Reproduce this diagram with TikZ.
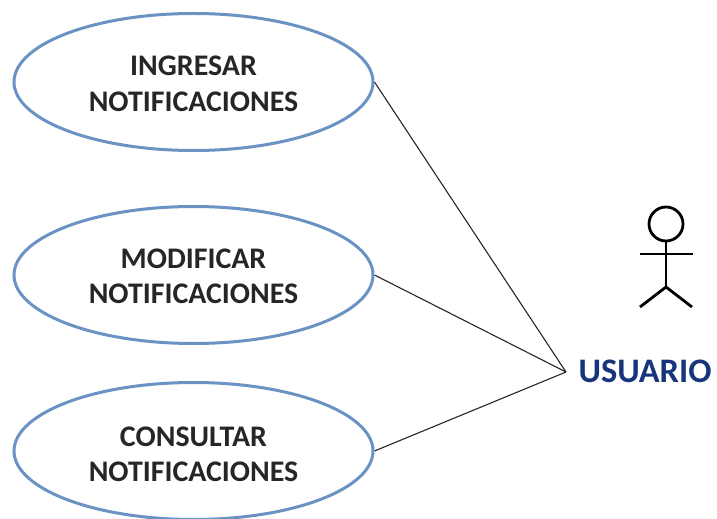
\documentclass[tikz,border=0pt]{standalone}
\usepackage{fontspec}
\setmainfont{Carlito}
\definecolor{ell}{HTML}{6A93C4}
\definecolor{navy}{HTML}{17357A}
\usetikzlibrary{shapes.geometric}
\tikzset{usecase/.style={draw=ell,line width=3bp,ellipse,minimum width=359bp,minimum height=137bp,inner sep=0pt},
casetext/.style={align=center,font=\bfseries\fontsize{29.9bp}{35.5bp}\selectfont,text=black!85,inner sep=0pt},
link/.style={draw=black!85,line width=1.1bp},
stick/.style={draw=black,line width=2.8bp}}
\begin{document}
\begin{tikzpicture}[x=1bp,y=-1bp]
\useasboundingbox (0,0) rectangle (717,519);
\node[usecase,label={[casetext,yshift=-1.8bp]center:{INGRESAR\\NOTIFICACIONES}}] (a) at (193.5,82) {};
\node[usecase,label={[casetext,yshift=-1.5bp]center:{MODIFICAR\\NOTIFICACIONES}}] (b) at (193.5,275) {};
\node[usecase,label={[casetext,yshift=-3.2bp]center:{CONSULTAR\\NOTIFICACIONES}}] (c) at (193.5,451) {};
\coordinate (j) at (566,372);
\draw[link] (a.east) -- (j);
\draw[link] (b.east) -- (j);
\draw[link] (c.east) -- (j);
\node[draw=black,line width=2.8bp,circle,minimum size=34bp,inner sep=0pt] (head) at (666,224) {};
\coordinate (hip) at (666,287);
\coordinate (la) at (640,254);
\coordinate (ra) at (693,254);
\coordinate (lf) at (640,307);
\coordinate (rf) at (692,307);
\draw[stick] (head.south) -- (hip);
\draw[stick] (la) -- (ra);
\draw[stick] (lf) -- (hip) -- (rf);
\node[font=\bfseries\fontsize{34.4bp}{38bp}\selectfont,text=navy] (u) at (645,371) {USUARIO};
\end{tikzpicture}
\end{document}
